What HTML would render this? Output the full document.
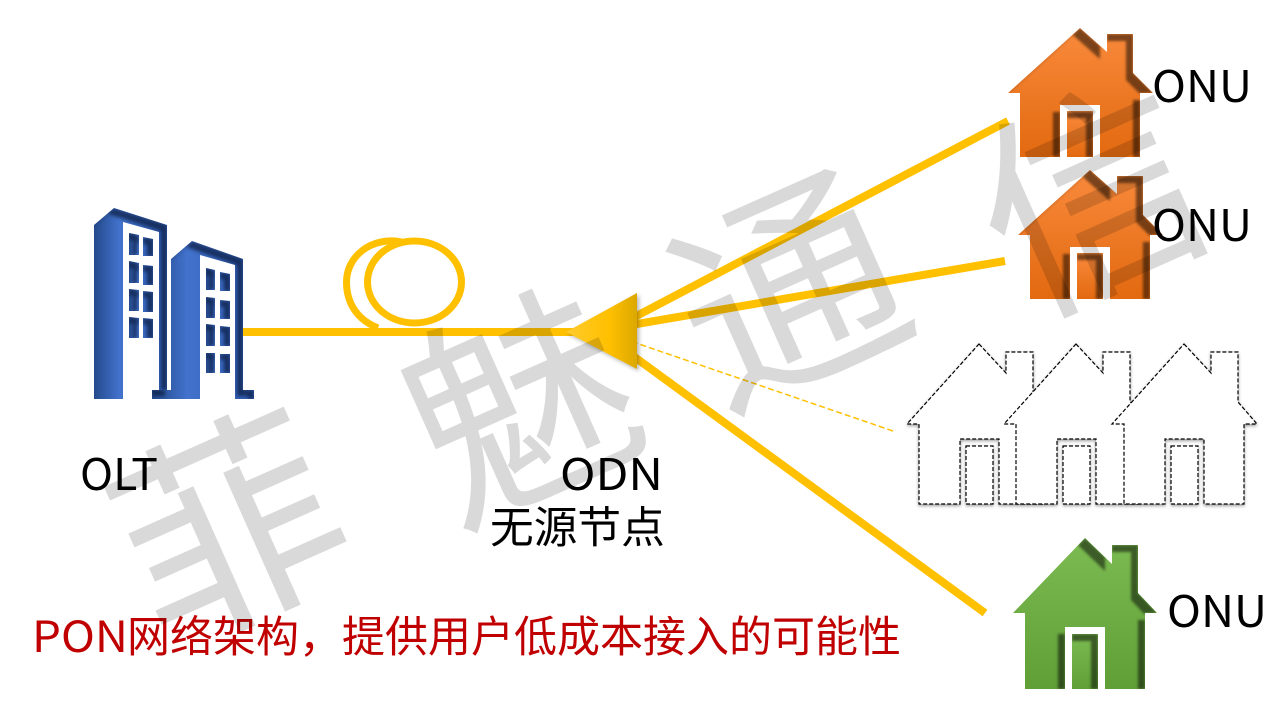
<!DOCTYPE html>
<html><head><meta charset="utf-8"><style>
html,body{margin:0;padding:0;background:#fff;width:1280px;height:720px;overflow:hidden}
svg{display:block}
text{font-family:"Noto Sans CJK SC",sans-serif}
.l{font-size:43.7px;fill:#000}
.r{font-size:43px;fill:#C00000}
.w{font-size:222px;fill:#000;fill-opacity:.15;text-anchor:middle}
</style></head><body>
<svg width="1280" height="720" viewBox="0 0 1280 720" xmlns="http://www.w3.org/2000/svg">
<defs>
<linearGradient id="o" x1="0" y1="0" x2="0" y2="1"><stop offset="0" stop-color="#F98A3C"/><stop offset="1" stop-color="#E2690F"/></linearGradient>
<linearGradient id="g" x1="0" y1="0" x2="0" y2="1"><stop offset="0" stop-color="#7CBB52"/><stop offset="1" stop-color="#5F9F36"/></linearGradient>
<linearGradient id="b" x1="0" y1="0" x2="1" y2="0"><stop offset="0" stop-color="#254A8C"/><stop offset=".35" stop-color="#4272CC"/><stop offset="1" stop-color="#2F5BAE"/></linearGradient>
<linearGradient id="t" x1="0" y1="0" x2="1" y2="0"><stop offset="0" stop-color="#FFCB2E"/><stop offset=".6" stop-color="#FFC000"/><stop offset="1" stop-color="#DCA800"/></linearGradient>
<filter id="in" x="-10%" y="-10%" width="120%" height="120%" color-interpolation-filters="sRGB">
<feOffset in="SourceAlpha" dx="-7" dy="7" result="off"/>
<feComposite in="SourceAlpha" in2="off" operator="out" result="edge"/>
<feGaussianBlur in="edge" stdDeviation="1.2" result="bl"/>
<feFlood flood-color="#000" flood-opacity=".5"/>
<feComposite in2="bl" operator="in" result="c"/>
<feComposite in="c" in2="SourceAlpha" operator="in" result="s"/>
<feMerge><feMergeNode in="SourceGraphic"/><feMergeNode in="s"/></feMerge>
</filter>
<filter id="in2" x="-10%" y="-10%" width="120%" height="120%" color-interpolation-filters="sRGB">
<feOffset in="SourceAlpha" dx="-6" dy="6" result="off"/>
<feComposite in="SourceAlpha" in2="off" operator="out" result="edge"/>
<feGaussianBlur in="edge" stdDeviation="1.8" result="bl"/>
<feFlood flood-color="#0A1A3C" flood-opacity=".7"/>
<feComposite in2="bl" operator="in" result="c"/>
<feComposite in="c" in2="SourceAlpha" operator="in" result="s"/>
<feMerge><feMergeNode in="SourceGraphic"/><feMergeNode in="s"/></feMerge>
</filter>
<filter id="ds" x="-10%" y="-10%" width="120%" height="120%" color-interpolation-filters="sRGB"><feDropShadow dx="0" dy="1.5" stdDeviation="1.5" flood-color="#000" flood-opacity=".4"/></filter>
<filter id="ts" x="-20%" y="-20%" width="140%" height="140%" color-interpolation-filters="sRGB"><feDropShadow dx="2" dy="2" stdDeviation="2" flood-color="#000" flood-opacity=".3"/></filter>
<path id="dash" d="M0 0L27 29V8H54V58L78 80H65V160H20V95H-19V160H-60V80H-72ZM-13 102H14V160H-13Z"/>
<path id="dash3" d="M0 0L27 29V8H54V58L73 80H60V160H20V95H-19V160H-60V80H-72ZM-13 102H14V160H-13Z"/>
</defs>

<!-- fibre lines -->
<g fill="none" stroke="#FFC000">
<path d="M243 332H600" stroke-width="8"/>
<path d="M1008 121L625 322" stroke-width="8"/>
<path d="M1005 261L625 326" stroke-width="8"/>
<path d="M985 613L625 350" stroke-width="8"/>
<path d="M893 431L636 343" stroke-width="1.5" stroke-dasharray="6 3"/>
<ellipse cx="414.500" cy="282" rx="47" ry="41" stroke-width="7"/>
<path d="M402 242C372 236 346.500 256 346.500 282C346.500 304 358 320 378 328" stroke-width="7"/>
</g>
<path d="M566 332L637 293V369Z" fill="url(#t)" filter="url(#ts)"/>

<!-- building -->
<g>
<path d="M94 225L114 208L167 225V390H152V399H94Z" fill="url(#b)" filter="url(#in2)"/>
<path d="M123 222L159 232V399H123Z" fill="#fff"/>
<path d="M171 259L192 241L243 259V390H254V399H152V390H171Z" fill="url(#b)" filter="url(#in2)"/>
<path d="M200 255L235 265V399H200Z" fill="#fff"/>
<g fill="url(#b)" filter="url(#in2)">
<path d="M129 233L139 235V255H129ZM143 237L153 239V256H143ZM129 261L139 263V283H129ZM143 265L153 266V285H143ZM129 289L139 290V311H129ZM143 291L153 292V312H143ZM129 317L139 318V338H129ZM143 318L153 319V338H143Z"/>
<path d="M206 268L215 270V290H206ZM220 272L230 274V291H220ZM206 297L215 298V318H206ZM220 300L230 301V319H220ZM206 324L215 325V346H206ZM220 326L230 327V346H220ZM206 353L215 353V373H206ZM220 354L230 354V373H220Z"/>
</g>
</g>

<!-- orange houses -->
<g fill="url(#o)" filter="url(#in)">
<path d="M1080 28L1107 52V34H1133V73L1153 93H1140V157H1100V105H1060V157H1020V93H1008Z"/>
<path d="M1067 111H1093V157H1067Z"/>
</g>
<g fill="url(#o)" filter="url(#in)">
<path d="M1090 170L1117 194V176H1143V215L1163 235H1150V299H1110V247H1070V299H1030V235H1018Z"/>
<path d="M1077 253H1103V299H1077Z"/>
</g>

<!-- green house -->
<g fill="url(#g)" filter="url(#in)">
<path d="M1085 538L1112 564V545H1138V593L1157 613H1145V689H1105V627H1065V689H1025V613H1013Z"/>
<path d="M1072 634H1098V689H1072Z"/>
</g>

<!-- dashed houses -->
<g fill="#fff" stroke="#000" stroke-width="1.2" stroke-dasharray="4 2" fill-rule="evenodd" filter="url(#ds)">
<use href="#dash" x="979" y="344"/>
<use href="#dash" x="1076" y="344"/>
<use href="#dash3" x="1184" y="344"/>
</g>

<!-- labels -->
<text class="l" x="1152" y="102" textLength="100" lengthAdjust="spacingAndGlyphs">ONU</text>
<text class="l" x="1152" y="241" textLength="100" lengthAdjust="spacingAndGlyphs">ONU</text>
<text class="l" x="1167" y="627" textLength="100" lengthAdjust="spacingAndGlyphs">ONU</text>
<text class="l" x="80" y="490" textLength="78" lengthAdjust="spacingAndGlyphs">OLT</text>
<text class="l" x="560" y="490" textLength="103" lengthAdjust="spacingAndGlyphs">ODN</text>
<text class="l" x="490" y="543">无源节点</text>
<text class="r" x="32" y="652" textLength="96" lengthAdjust="spacingAndGlyphs">PON</text>
<text class="r" x="127" y="652">网络架构，提供用户低成本接入的可能性</text>

<!-- watermark -->
<text class="w" transform="translate(263 603) rotate(-24)">菲</text>
<text class="w" transform="translate(554 480) rotate(-24)">魅</text>
<text class="w" transform="translate(822 366) rotate(-24)">通</text>
<text class="w" transform="translate(1124 272) rotate(-24)">信</text>
</svg>
</body></html>
